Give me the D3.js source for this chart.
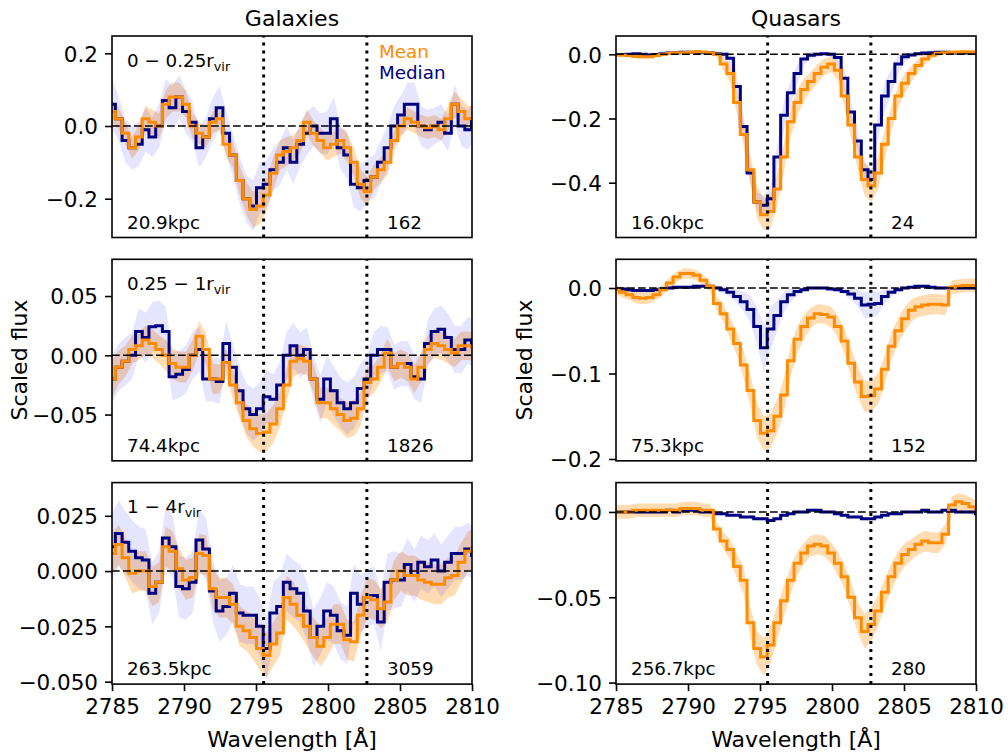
<!DOCTYPE html>
<html><head><meta charset="utf-8">
<script src="https://cdn.jsdelivr.net/npm/d3@7"></script>
<style>
html,body{margin:0;padding:0;background:#fff;}
svg{display:block;font-family:"DejaVu Sans",sans-serif;}
</style></head>
<body><svg id="c" width="1008" height="753"></svg>
<script>
// ---------- data ----------
const wavelength = [2785.00,2785.47,2785.93,2786.40,2786.87,2787.33,2787.80,2788.27,2788.73,2789.20,
 2789.67,2790.13,2790.60,2791.07,2791.53,2792.00,2792.47,2792.93,2793.40,2793.87,
 2794.33,2794.80,2795.27,2795.73,2796.20,2796.67,2797.13,2797.60,2798.07,2798.53,
 2799.00,2799.47,2799.93,2800.40,2800.87,2801.33,2801.80,2802.27,2802.73,2803.20,
 2803.67,2804.13,2804.60,2805.07,2805.53,2806.00,2806.47,2806.93,2807.40,2807.87,
 2808.33,2808.80,2809.27,2809.73,2810.20];
const xTicks = [2785,2790,2795,2800,2805,2810];
const mgLines = [2795.53,2802.70];

// Galaxies 0-0.25 rvir
const galMean1 = [0.04,0.02,-0.02,-0.06,-0.03,0.02,0.01,0.0,0.06,0.08,
 0.08,0.06,0.0,-0.02,-0.03,0.01,0.02,-0.05,-0.08,-0.15,
 -0.2,-0.23,-0.22,-0.19,-0.13,-0.08,-0.07,-0.06,-0.04,0.01,
 -0.02,-0.04,-0.06,-0.05,-0.04,-0.06,-0.1,-0.16,-0.18,-0.14,
 -0.12,-0.1,-0.04,0.0,0.02,0.01,0.0,-0.005,0.0,-0.01,
 0.02,0.06,0.04,0.02,0.02];
const galMedian1 = [0.06,0.02,-0.04,-0.06,-0.05,-0.01,-0.03,0.0,0.07,0.05,
 0.08,0.04,0.01,-0.06,-0.03,0.02,0.05,-0.02,-0.08,-0.15,
 -0.2,-0.22,-0.17,-0.16,-0.12,-0.1,-0.06,-0.1,-0.05,-0.02,
 0.0,-0.02,-0.02,0.02,-0.06,-0.08,-0.16,-0.17,-0.15,-0.14,
 -0.1,-0.06,0.0,0.03,0.06,0.06,0.0,-0.01,0.0,0.01,
 -0.02,0.06,0.0,-0.01,0.02];
const galMeanErr1 = [0.03,0.03,0.03,0.03,0.035,0.035,0.035,0.035,0.04,0.04,
 0.04,0.035,0.035,0.03,0.03,0.03,0.03,0.035,0.035,0.04,
 0.045,0.05,0.05,0.045,0.045,0.04,0.04,0.035,0.035,0.035,
 0.035,0.035,0.035,0.035,0.035,0.04,0.04,0.04,0.04,0.035,
 0.035,0.035,0.03,0.03,0.03,0.03,0.03,0.03,0.03,0.03,
 0.035,0.035,0.035,0.035,0.035];
const galMedianErr1 = [0.07,0.06,0.06,0.06,0.06,0.06,0.055,0.06,0.06,0.06,
 0.06,0.06,0.055,0.055,0.055,0.06,0.06,0.06,0.06,0.065,
 0.065,0.07,0.07,0.065,0.06,0.06,0.06,0.06,0.06,0.06,
 0.055,0.055,0.06,0.06,0.06,0.065,0.065,0.065,0.06,0.06,
 0.06,0.06,0.055,0.055,0.06,0.06,0.055,0.055,0.05,0.05,
 0.05,0.055,0.055,0.055,0.055];

// Galaxies 0.25-1 rvir
const galMean2 = [-0.02,-0.01,-0.005,0.005,0.008,0.013,0.01,0.005,0.0,-0.007,
 -0.01,-0.01,0.0,0.016,0.005,-0.02,-0.02,-0.006,-0.025,-0.04,
 -0.055,-0.062,-0.066,-0.065,-0.058,-0.045,-0.025,-0.005,-0.003,-0.005,
 -0.02,-0.04,-0.04,-0.045,-0.05,-0.055,-0.053,-0.045,-0.023,-0.02,
 -0.01,0.002,-0.01,-0.007,-0.01,-0.02,-0.01,0.005,0.01,0.008,
 0.005,0.002,0.008,0.008,0.007];
const galMedian2 = [-0.02,-0.01,-0.005,0.0,0.02,0.015,0.024,0.025,0.02,-0.018,
 -0.016,-0.012,0.0,0.005,-0.02,-0.02,-0.022,0.01,-0.01,-0.03,
 -0.045,-0.05,-0.045,-0.035,-0.037,-0.025,0.0,0.008,0.0,0.005,
 -0.02,-0.037,-0.02,-0.03,-0.04,-0.045,-0.04,-0.028,-0.02,0.0,
 0.005,0.005,-0.01,-0.007,-0.007,-0.018,-0.02,0.01,0.02,0.022,
 0.015,0.005,0.005,0.013,0.008];
const galMeanErr2 = [0.016,0.014,0.013,0.012,0.012,0.012,0.012,0.012,0.013,0.013,
 0.013,0.013,0.013,0.013,0.013,0.013,0.012,0.012,0.012,0.013,
 0.014,0.015,0.016,0.016,0.016,0.015,0.014,0.013,0.012,0.012,
 0.012,0.013,0.013,0.014,0.014,0.015,0.015,0.014,0.013,0.012,
 0.012,0.012,0.012,0.012,0.012,0.012,0.012,0.012,0.012,0.012,
 0.012,0.012,0.012,0.012,0.012];
const galMedianErr2 = [0.02,0.02,0.02,0.02,0.02,0.021,0.021,0.021,0.021,0.02,
 0.02,0.02,0.02,0.019,0.019,0.019,0.019,0.019,0.019,0.02,
 0.021,0.022,0.022,0.022,0.021,0.02,0.02,0.019,0.019,0.019,
 0.019,0.02,0.02,0.021,0.021,0.022,0.022,0.021,0.02,0.02,
 0.02,0.019,0.019,0.019,0.019,0.019,0.02,0.02,0.02,0.02,
 0.02,0.02,0.02,0.02,0.02];

// Galaxies 1-4 rvir
const galMean3 = [0.008,0.012,0.006,-0.001,0.0,0.0,-0.007,-0.005,0.011,0.009,
 0.001,-0.004,-0.003,0.008,0.007,-0.008,-0.012,-0.012,-0.015,-0.025,
 -0.027,-0.03,-0.035,-0.038,-0.033,-0.028,-0.012,-0.015,-0.02,-0.025,
 -0.03,-0.034,-0.03,-0.024,-0.024,-0.031,-0.032,-0.02,-0.012,-0.013,
 -0.017,-0.014,-0.004,0.0,-0.002,-0.002,-0.004,-0.005,-0.006,-0.006,
 -0.003,-0.002,0.004,0.009,0.01];
const galMedian3 = [0.011,0.017,0.013,0.009,0.006,0.005,-0.01,-0.005,0.015,0.011,
 -0.007,-0.008,-0.005,0.014,0.01,-0.009,-0.018,-0.016,-0.01,-0.019,
 -0.02,-0.02,-0.025,-0.035,-0.019,-0.016,-0.005,-0.008,-0.01,-0.018,
 -0.03,-0.025,-0.018,-0.02,-0.027,-0.029,-0.01,-0.015,-0.012,-0.011,
 -0.023,-0.005,-0.004,-0.004,0.003,-0.002,0.004,0.002,0.005,0.0,
 0.004,0.008,0.008,0.01,0.007];
const galMeanErr3 = [0.009,0.009,0.009,0.009,0.009,0.009,0.009,0.009,0.009,0.009,
 0.009,0.009,0.009,0.009,0.009,0.009,0.009,0.009,0.009,0.009,
 0.009,0.01,0.01,0.01,0.01,0.01,0.01,0.01,0.009,0.009,
 0.009,0.009,0.009,0.009,0.009,0.009,0.009,0.009,0.009,0.009,
 0.009,0.009,0.009,0.009,0.009,0.009,0.009,0.009,0.009,0.009,
 0.009,0.009,0.009,0.009,0.009];
const galMedianErr3 = [0.015,0.015,0.014,0.014,0.014,0.014,0.014,0.014,0.014,0.014,
 0.014,0.014,0.014,0.014,0.014,0.014,0.014,0.013,0.013,0.013,
 0.013,0.013,0.013,0.014,0.014,0.014,0.013,0.013,0.013,0.013,
 0.013,0.013,0.013,0.013,0.013,0.013,0.013,0.013,0.013,0.013,
 0.013,0.013,0.013,0.012,0.012,0.012,0.012,0.012,0.012,0.012,
 0.012,0.012,0.012,0.012,0.012];

// Quasars 0-0.25 rvir
const qsoMean1 = [-0.002,-0.003,-0.004,-0.007,-0.008,-0.008,-0.004,0.0,0.003,0.005,
 0.005,0.006,0.008,0.007,0.004,0.0,-0.03,-0.06,-0.15,-0.25,
 -0.36,-0.46,-0.5,-0.49,-0.42,-0.32,-0.21,-0.15,-0.11,-0.085,
 -0.06,-0.04,-0.03,-0.05,-0.13,-0.22,-0.32,-0.39,-0.41,-0.37,
 -0.28,-0.2,-0.13,-0.09,-0.06,-0.035,-0.015,-0.003,0.003,0.005,
 0.006,0.007,0.008,0.007,0.006];
const qsoMedian1 = [-0.001,-0.001,0.0,0.002,0.0,-0.002,-0.001,0.002,0.004,0.005,
 0.006,0.006,0.006,0.005,0.004,0.002,0.0,-0.012,-0.1,-0.225,
 -0.37,-0.46,-0.47,-0.45,-0.32,-0.19,-0.12,-0.06,-0.015,-0.003,
 0.0,0.002,0.0,-0.01,-0.075,-0.18,-0.27,-0.36,-0.39,-0.22,
 -0.13,-0.085,-0.03,-0.008,-0.002,0.002,0.004,0.005,0.006,0.006,
 0.005,0.004,0.004,0.003,0.003];
const qsoMeanErr1 = [0.004,0.005,0.006,0.006,0.006,0.005,0.004,0.003,0.003,0.003,
 0.003,0.003,0.003,0.003,0.004,0.01,0.02,0.03,0.035,0.04,
 0.045,0.05,0.05,0.05,0.05,0.045,0.045,0.04,0.035,0.03,
 0.03,0.025,0.025,0.03,0.035,0.04,0.045,0.05,0.05,0.05,
 0.045,0.04,0.035,0.03,0.025,0.02,0.015,0.01,0.008,0.006,
 0.005,0.005,0.005,0.005,0.005];
const qsoMedianErr1 = [0.003,0.003,0.003,0.003,0.003,0.003,0.003,0.003,0.003,0.003,
 0.003,0.003,0.003,0.003,0.003,0.005,0.01,0.02,0.03,0.035,
 0.03,0.03,0.03,0.035,0.04,0.045,0.04,0.03,0.02,0.01,
 0.008,0.006,0.008,0.015,0.03,0.035,0.03,0.03,0.03,0.04,
 0.045,0.04,0.03,0.015,0.008,0.004,0.004,0.004,0.004,0.004,
 0.004,0.004,0.004,0.004,0.004];

// Quasars 0.25-1 rvir
const qsoMean2 = [-0.002,-0.005,-0.008,-0.011,-0.012,-0.011,-0.008,-0.002,0.006,0.013,
 0.017,0.017,0.015,0.009,0.002,-0.018,-0.03,-0.048,-0.065,-0.09,
 -0.12,-0.155,-0.17,-0.167,-0.15,-0.125,-0.085,-0.06,-0.045,-0.035,
 -0.03,-0.031,-0.034,-0.045,-0.062,-0.088,-0.11,-0.127,-0.126,-0.118,
 -0.095,-0.068,-0.05,-0.036,-0.026,-0.022,-0.02,-0.019,-0.019,-0.02,
 0.001,0.002,0.003,0.003,0.003];
const qsoMedian2 = [-0.001,-0.001,-0.002,-0.003,-0.003,-0.003,-0.002,-0.001,0.0,0.001,
 0.001,0.001,0.002,0.002,0.002,0.0,-0.002,-0.005,-0.01,-0.016,
 -0.025,-0.045,-0.07,-0.048,-0.032,-0.016,-0.008,-0.004,-0.002,0.0,
 0.0,0.0,-0.001,-0.002,-0.004,-0.007,-0.012,-0.02,-0.019,-0.018,
 -0.01,-0.005,-0.002,0.0,0.001,0.002,0.002,0.001,0.0,0.0,
 0.0,0.0,0.0,0.0,0.0];
const qsoMeanErr2 = [0.006,0.006,0.006,0.007,0.007,0.007,0.006,0.006,0.006,0.006,
 0.006,0.006,0.006,0.006,0.006,0.008,0.01,0.012,0.014,0.016,
 0.018,0.02,0.02,0.02,0.02,0.02,0.018,0.016,0.014,0.012,
 0.011,0.011,0.012,0.013,0.015,0.017,0.018,0.018,0.018,0.018,
 0.017,0.016,0.015,0.014,0.013,0.012,0.012,0.012,0.012,0.012,
 0.008,0.008,0.008,0.008,0.008];
const qsoMedianErr2 = [0.002,0.002,0.002,0.002,0.002,0.002,0.002,0.002,0.002,0.002,
 0.002,0.002,0.002,0.002,0.002,0.003,0.004,0.006,0.008,0.012,
 0.016,0.022,0.028,0.025,0.018,0.012,0.008,0.005,0.003,0.002,
 0.002,0.002,0.002,0.002,0.004,0.007,0.01,0.015,0.016,0.013,
 0.008,0.005,0.003,0.002,0.002,0.002,0.002,0.002,0.002,0.002,
 0.002,0.002,0.002,0.002,0.002];

// Quasars 1-4 rvir
const qsoMean3 = [0.0,0.0,0.0,0.001,0.001,0.001,0.001,0.001,0.001,0.001,
 0.002,0.002,0.002,0.001,0.001,-0.01,-0.017,-0.022,-0.032,-0.04,
 -0.065,-0.08,-0.085,-0.078,-0.065,-0.052,-0.04,-0.03,-0.024,-0.02,
 -0.019,-0.02,-0.024,-0.03,-0.038,-0.05,-0.062,-0.07,-0.066,-0.058,
 -0.047,-0.038,-0.03,-0.025,-0.022,-0.019,-0.017,-0.018,-0.018,-0.013,
 0.004,0.006,0.005,0.003,0.002];
const qsoMedian3 = [0.0,0.0,0.0,0.0,0.0,0.0,0.0,0.0,0.001,0.0,
 0.001,0.001,0.001,0.0,0.0,-0.001,-0.001,-0.002,-0.002,-0.003,
 -0.003,-0.004,-0.004,-0.005,-0.004,-0.002,-0.001,0.0,0.0,0.001,
 0.001,0.0,0.0,-0.001,-0.002,-0.003,-0.003,-0.004,-0.004,-0.003,
 -0.002,-0.001,-0.001,0.0,0.0,0.0,0.001,0.0,0.0,0.001,
 0.001,0.0,0.0,0.0,-0.001];
const qsoMeanErr3 = [0.004,0.004,0.004,0.004,0.004,0.004,0.004,0.004,0.004,0.004,
 0.004,0.004,0.004,0.004,0.004,0.004,0.005,0.006,0.007,0.008,
 0.009,0.01,0.011,0.011,0.01,0.009,0.008,0.007,0.006,0.006,
 0.006,0.006,0.006,0.007,0.007,0.008,0.009,0.01,0.01,0.009,
 0.008,0.008,0.007,0.007,0.006,0.006,0.006,0.006,0.006,0.006,
 0.005,0.005,0.005,0.005,0.004];
const qsoMedianErr3 = [0.001,0.001,0.001,0.001,0.001,0.001,0.001,0.001,0.001,0.001,
 0.001,0.001,0.001,0.001,0.001,0.001,0.001,0.001,0.001,0.001,
 0.001,0.001,0.001,0.001,0.001,0.001,0.001,0.001,0.001,0.001,
 0.001,0.001,0.001,0.001,0.001,0.001,0.001,0.001,0.001,0.001,
 0.001,0.001,0.001,0.001,0.001,0.001,0.001,0.001,0.001,0.001,
 0.001,0.001,0.001,0.001,0.001];

const galYTicks = [[-0.2,0.0,0.2],[-0.05,0.0,0.05],[-0.05,-0.025,0.0,0.025]];
const qsoYTicks = [[-0.4,-0.2,0.0],[-0.2,-0.1,0.0],[-0.10,-0.05,0.0]];
const rangeLabels = [["0 − 0.25r","vir"],["0.25 − 1r","vir"],["1 − 4r","vir"]];
const galDist = ["20.9kpc","74.4kpc","263.5kpc"];
const galCount = ["162","1826","3059"];
const qsoDist = ["16.0kpc","75.3kpc","256.7kpc"];
const qsoCount = ["24","152","280"];
const colTitles = ["Galaxies","Quasars"];

// ---------- layout ----------
const colX = [[112,472],[616,976]];
const rowTop = [36,259.3,482.6];
const PH = 201.5;
const ORANGE = "#ff8c00", NAVY = "#000080";

const panels = [
 {col:0,row:0,mean:galMean1,median:galMedian1,meanErr:galMeanErr1,medianErr:galMedianErr1,yd:[-0.3067,0.2476],ticks:galYTicks[0],fmt:".1f",dist:galDist[0],count:galCount[0]},
 {col:0,row:1,mean:galMean2,median:galMedian2,meanErr:galMeanErr2,medianErr:galMedianErr2,yd:[-0.089,0.081],ticks:galYTicks[1],fmt:".2f",dist:galDist[1],count:galCount[1]},
 {col:0,row:2,mean:galMean3,median:galMedian3,meanErr:galMeanErr3,medianErr:galMedianErr3,yd:[-0.0511,0.040],ticks:galYTicks[2],fmt:".3f",dist:galDist[2],count:galCount[2]},
 {col:1,row:0,mean:qsoMean1,median:qsoMedian1,meanErr:qsoMeanErr1,medianErr:qsoMedianErr1,yd:[-0.5707,0.057],ticks:qsoYTicks[0],fmt:".1f",dist:qsoDist[0],count:qsoCount[0]},
 {col:1,row:1,mean:qsoMean2,median:qsoMedian2,meanErr:qsoMeanErr2,medianErr:qsoMedianErr2,yd:[-0.2021,0.0336],ticks:qsoYTicks[1],fmt:".1f",dist:qsoDist[1],count:qsoCount[1]},
 {col:1,row:2,mean:qsoMean3,median:qsoMedian3,meanErr:qsoMeanErr3,medianErr:qsoMedianErr3,yd:[-0.1009,0.0172],ticks:qsoYTicks[2],fmt:".2f",dist:qsoDist[2],count:qsoCount[2]}
];

const svg = d3.select("#c");
const defs = svg.append("defs");
const idx = d3.range(wavelength.length);

panels.forEach((p,k)=>{
  const [x0,x1] = colX[p.col];
  const y0 = rowTop[p.row], y1 = y0+PH;
  const x = d3.scaleLinear().domain([2785,2810]).range([x0,x1]);
  const y = d3.scaleLinear().domain(p.yd).range([y1,y0]);
  defs.append("clipPath").attr("id","cp"+k).append("rect")
    .attr("x",x0).attr("y",y0).attr("width",x1-x0).attr("height",PH);
  const g = svg.append("g");
  const pg = g.append("g").attr("clip-path",`url(#cp${k})`);

  const band = (v,e)=>d3.area().x(i=>x(wavelength[i])).y0(i=>y(v[i]-e[i])).y1(i=>y(v[i]+e[i]));
  pg.append("path").attr("d",band(p.mean,p.meanErr)(idx)).attr("fill",ORANGE).attr("fill-opacity",0.3);
  pg.append("path").attr("d",band(p.median,p.medianErr)(idx)).attr("fill","#0000ff").attr("fill-opacity",0.1);

  const step = v=>d3.line().curve(d3.curveStep).x(i=>x(wavelength[i])).y(i=>y(v[i]));
  pg.append("path").attr("d",step(p.median)(idx)).attr("fill","none").attr("stroke",NAVY).attr("stroke-width",3);
  pg.append("path").attr("d",step(p.mean)(idx)).attr("fill","none").attr("stroke",ORANGE).attr("stroke-width",3);

  pg.append("line").attr("x1",x0).attr("x2",x1).attr("y1",y(0)).attr("y2",y(0))
    .attr("stroke","#000").attr("stroke-width",1.6).attr("stroke-dasharray","7.7,3.3");
  mgLines.forEach(w=>{
    pg.append("line").attr("x1",x(w)).attr("x2",x(w)).attr("y1",y1).attr("y2",y0)
      .attr("stroke","#000").attr("stroke-width",3).attr("stroke-dasharray","3,5");
  });

  // frame
  g.append("rect").attr("x",x0).attr("y",y0).attr("width",x1-x0).attr("height",PH)
    .attr("fill","none").attr("stroke","#000").attr("stroke-width",1.6);

  // y axis
  const ya = g.append("g").attr("transform",`translate(${x0},0)`)
    .call(d3.axisLeft(y).tickValues(p.ticks).tickFormat(d3.format(p.fmt)).tickSize(7).tickPadding(7));
  ya.select(".domain").remove();
  ya.selectAll("line").attr("stroke-width",1.6);
  ya.selectAll("text").attr("font-size",21.5).attr("font-family","DejaVu Sans").attr("fill","#000").attr("dy","0.36em");

  if(p.row===2){
    const xa = g.append("g").attr("transform",`translate(0,${y1})`)
      .call(d3.axisBottom(x).tickValues(xTicks).tickFormat(d3.format("d")).tickSize(7).tickPadding(7));
    xa.select(".domain").remove();
    xa.selectAll("line").attr("stroke-width",1.6);
    xa.selectAll("text").attr("font-size",21.5).attr("font-family","DejaVu Sans").attr("fill","#000").attr("dy","0.73em");
    g.append("text").attr("x",(x0+x1)/2).attr("y",747).attr("text-anchor","middle")
      .attr("font-size",22).text("Wavelength [Å]");
  }
  if(p.row===1){
    const lx = p.col===0 ? 26.7 : 531.7;
    g.append("text").attr("transform",`translate(${lx},${(y0+y1)/2}) rotate(-90)`)
      .attr("text-anchor","middle").attr("font-size",22).text("Scaled flux");
  }
  if(p.row===0){
    g.append("text").attr("x",(x0+x1)/2).attr("y",26).attr("text-anchor","middle")
      .attr("font-size",22).text(colTitles[p.col]);
  }
  // annotations
  g.append("text").attr("x",x0+15).attr("y",y1-9).attr("font-size",18.3).text(p.dist);
  g.append("text").attr("x",x0+275).attr("y",y1-9).attr("font-size",18.3).text(p.count);
  if(p.col===0){
    const t = g.append("text").attr("x",x0+15).attr("y",y0+30.5).attr("font-size",18.3);
    t.append("tspan").text(rangeLabels[p.row][0]);
    t.append("tspan").attr("font-size",12.8).attr("dy",4).text(rangeLabels[p.row][1]);
  }
  if(k===0){
    g.append("text").attr("x",x0+267).attr("y",y0+22).attr("font-size",18.3).attr("fill",ORANGE).text("Mean");
    g.append("text").attr("x",x0+267).attr("y",y0+42.5).attr("font-size",18.3).attr("fill",NAVY).text("Median");
  }
});
</script>
</body></html>
